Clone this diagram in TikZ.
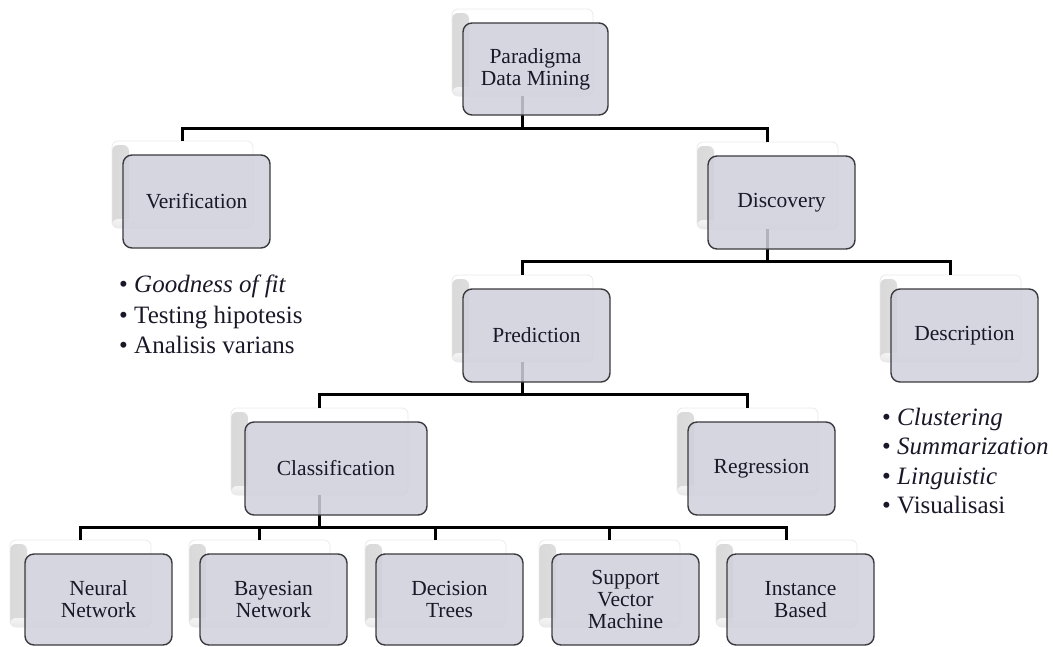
\documentclass[tikz,border=0pt]{standalone}
\usepackage{fontspec}
\setmainfont{Liberation Serif}
\definecolor{boxfill}{RGB}{208,208,220}
\definecolor{boxline}{RGB}{58,58,62}
\definecolor{backline}{RGB}{234,234,238}
\definecolor{inktext}{RGB}{26,24,40}
\tikzset{
  backbox/.style={draw=backline, line width=0.8pt, fill=white, rounded corners=6pt,
    minimum width=141pt, minimum height=87pt, inner sep=0pt, outer sep=0pt,
    anchor=north west,
    path picture={
      \shade[left color=black!15, right color=white]
        ([yshift=-4pt]path picture bounding box.north west) rectangle
        ([xshift=17pt]path picture bounding box.south west);
      \shade[bottom color=black!6, top color=white, fill opacity=0.7]
        ([yshift=9pt]path picture bounding box.south west) rectangle
        (path picture bounding box.south east);
    }},
  frontbox/.style={draw=boxline, line width=1.4pt, fill=boxfill, fill opacity=0.86,
    text opacity=1, text=inktext, rounded corners=9pt,
    minimum width=147pt, minimum height=93pt, inner sep=0pt, outer sep=0pt,
    anchor=north west, align=center, font=\fontsize{21.5}{22}\selectfont},
  conn/.style={draw=black, line width=3pt},
  listtext/.style={anchor=base west, inner sep=0pt, text=inktext,
    font=\fontsize{25}{30}\selectfont},
}
\begin{document}
\begin{tikzpicture}[x=1pt, y=-1pt]
\useasboundingbox (0,0) rectangle (1057,646);

% bus lines of each level
\coordinate (busA) at (0,128);
\coordinate (busB) at (0,261);
\coordinate (busC) at (0,394);
\coordinate (busD) at (0,527);

% back plates
\node[backbox] (pdmB) at (452,9) {};
\node[backbox] (verB) at (112,141) {};
\node[backbox] (disB) at (697,142) {};
\node[backbox] (preB) at (452,275) {};
\node[backbox] (desB) at (880,275) {};
\node[backbox, minimum width=177pt] (claB) at (231,408) {};
\node[backbox] (regB) at (677,408) {};
\node[backbox] (nnB) at (10,540) {};
\node[backbox] (bnB) at (189,540) {};
\node[backbox] (dtB) at (365,540) {};
\node[backbox] (svB) at (539,540) {};
\node[backbox] (ibB) at (716,540) {};

% connectors
\draw[conn] (verB.north) -- (verB.north |- busA) -- (disB.north |- busA) -- (disB.north);
\draw[conn] (pdmB.south) -- (pdmB.south |- busA);

\draw[conn] (preB.north) -- (preB.north |- busB) -- (desB.north |- busB) -- (desB.north);
\draw[conn] (disB.south) -- (disB.south |- busB);

\draw[conn] (claB.north) -- (claB.north |- busC) -- (regB.north |- busC) -- (regB.north);
\draw[conn] (preB.south) -- (preB.south |- busC);

\draw[conn] (nnB.north) -- (nnB.north |- busD) -- (ibB.north |- busD) -- (ibB.north);
\draw[conn] (claB.south) -- (claB.south |- busD);
\draw[conn] (bnB.north |- busD) -- (bnB.north);
\draw[conn] (dtB.north |- busD) -- (dtB.north);
\draw[conn] (svB.north |- busD) -- (svB.north);

% front boxes
\node[frontbox, minimum width=145pt, minimum height=92pt] (pdm) at (463,23) {Paradigma\\Data Mining};
\node[frontbox] (ver) at (123,155) {Verification};
\node[frontbox] (dis) at (708,156) {Discovery};
\node[frontbox] (pre) at (463,289) {Prediction};
\node[frontbox] (des) at (891,289) {Description};
\node[frontbox, minimum width=182pt] (cla) at (245,422) {Classification};
\node[frontbox] (reg) at (688,422) {Regression};
\node[frontbox, minimum height=91pt] (nn) at (25,554) {Neural\\Network};
\node[frontbox, minimum height=91pt] (bn) at (200,554) {Bayesian\\Network};
\node[frontbox, minimum height=91pt] (dt) at (376,554) {Decision\\Trees};
\node[frontbox, minimum height=91pt] (sv) at (552,554) {Support\\Vector\\Machine};
\node[frontbox, minimum height=91pt] (ib) at (727,554) {Instance\\Based};

% bullet lists
\node[listtext] (verL1) at (119,292) {\textbullet\ \textit{Goodness of fit}};
\node[listtext] (verL2) at (119,323) {\textbullet\ Testing hipotesis};
\node[listtext] (verL3) at (119,353) {\textbullet\ Analisis varians};

\node[listtext] (desL1) at (882,425) {\textbullet\ \textit{Clustering}};
\node[listtext] (desL2) at (882,454) {\textbullet\ \textit{Summarization}};
\node[listtext] (desL3) at (882,484) {\textbullet\ \textit{Linguistic}};
\node[listtext] (desL4) at (882,513) {\textbullet\ Visualisasi};
\end{tikzpicture}
\end{document}
